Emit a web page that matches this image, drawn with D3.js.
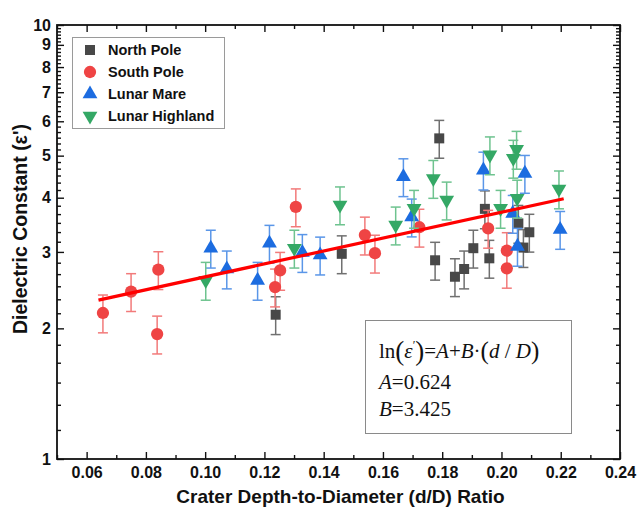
<!DOCTYPE html>
<html>
<head>
<meta charset="utf-8">
<script src="https://cdn.jsdelivr.net/npm/d3@7"></script>
<style>
  html, body { margin: 0; padding: 0; background: #fff; }
  svg { display: block; }
  text.sans { font-family: "Liberation Sans", Arial, sans-serif; }
  text.serif { font-family: "Liberation Serif", "Times New Roman", serif; }
</style>
</head>
<body>
<svg id="chart" width="641" height="519"></svg>
<script>
// ---------------- data ----------------
const seriesNames = ["North Pole", "South Pole", "Lunar Mare", "Lunar Highland"];

const northPoleX = [0.1238, 0.1461, 0.1776, 0.1790, 0.1843, 0.1874, 0.1905, 0.1944, 0.1959, 0.2057, 0.2074, 0.2094];
const northPoleY = [2.15, 2.97, 2.87, 5.48, 2.63, 2.74, 3.06, 3.77, 2.90, 3.49, 3.07, 3.33];

const southPoleX = [0.0655, 0.0750, 0.0838, 0.0842, 0.1236, 0.1253, 0.1306, 0.1539, 0.1573, 0.1723, 0.1955, 0.2018, 0.2018];
const southPoleY = [2.17, 2.43, 1.94, 2.73, 2.49, 2.72, 3.81, 3.28, 2.98, 3.42, 3.40, 3.02, 2.75];

const lunarMareX = [0.1019, 0.1073, 0.1177, 0.1217, 0.1328, 0.1388, 0.1669, 0.1697, 0.1939, 0.2038, 0.2054, 0.2079, 0.2198];
const lunarMareY = [3.06, 2.74, 2.58, 3.14, 2.99, 2.95, 4.47, 3.61, 4.63, 3.68, 3.09, 4.55, 3.38];

const lunarHighlandX = [0.1002, 0.1301, 0.1455, 0.1643, 0.1705, 0.1770, 0.1815, 0.1961, 0.1997, 0.2040, 0.2051, 0.2053, 0.2194];
const lunarHighlandY = [2.58, 3.06, 3.85, 3.46, 3.78, 4.43, 3.95, 5.02, 3.78, 4.93, 5.17, 3.99, 4.19];

const relativeError = 0.10;           // error bars: +/- 10 % of value

const fitA = 0.624, fitB = 3.425;     // ln(e') = A + B*(d/D)
const fitRangeX = [0.064, 0.221];

const xMajorTicks = [0.06, 0.08, 0.10, 0.12, 0.14, 0.16, 0.18, 0.20, 0.22, 0.24];
const xMinorTicks = [0.05, 0.07, 0.09, 0.11, 0.13, 0.15, 0.17, 0.19, 0.21, 0.23];
const yMajorTicks = [1, 2, 3, 4, 5, 6, 7, 8, 9, 10];

const equationLines = ["A = 0.624", "B = 3.425"];

// ---------------- layout ----------------
const svg = d3.select("#chart");
const L = 57, R = 620, T = 25, B = 459;

const x = d3.scaleLinear().domain([0.05, 0.24]).range([L, R]);
const y = d3.scaleLog().domain([1, 10]).range([B, T]);

const yMinorTicks = [];
yMajorTicks.slice(0, -1).forEach(v => { for (let k = 1; k <= 5; k++) yMinorTicks.push(v + k / 6); });

const series = [
  { name: seriesNames[0], xs: northPoleX, ys: northPoleY, sym: d3.symbolSquare, size: 100, rot: 0, color: "#484848", err: "#707070" },
  { name: seriesNames[1], xs: southPoleX, ys: southPoleY, sym: d3.symbolCircle, size: 118, rot: 0, color: "#ef4444", err: "#f27a7a" },
  { name: seriesNames[2], xs: lunarMareX, ys: lunarMareY, sym: d3.symbolTriangle, size: 95, rot: 0, color: "#1c6ce0", err: "#5a96e8" },
  { name: seriesNames[3], xs: lunarHighlandX, ys: lunarHighlandY, sym: d3.symbolTriangle, size: 95, rot: 180, color: "#34a865", err: "#6ec38f" }
];

// ---------------- axes ----------------
const tickFont = g => g.selectAll("text").attr("class", "sans")
  .style("font-size", "16px").style("font-weight", "bold").attr("fill", "#111");

function axisGroup(axis, tx, ty) {
  const g = svg.append("g").attr("transform", `translate(${tx},${ty})`).call(axis);
  g.select(".domain").remove();
  g.selectAll("line").attr("stroke", "#111").attr("stroke-width", 1.4);
  return g;
}
// bottom
axisGroup(d3.axisBottom(x).tickValues(xMajorTicks).tickFormat(d3.format(".2f")).tickSize(-7).tickPadding(8), 0, B).call(tickFont);
axisGroup(d3.axisBottom(x).tickValues(xMinorTicks).tickFormat("").tickSize(-4), 0, B);
// top
axisGroup(d3.axisTop(x).tickValues(xMajorTicks).tickFormat("").tickSize(-7), 0, T);
axisGroup(d3.axisTop(x).tickValues(xMinorTicks).tickFormat("").tickSize(-4), 0, T);
// left
axisGroup(d3.axisLeft(y).tickValues(yMajorTicks).tickFormat(d3.format("d")).tickSize(-7).tickPadding(6), L, 0).call(tickFont);
axisGroup(d3.axisLeft(y).tickValues(yMinorTicks).tickFormat("").tickSize(-4), L, 0);
// right
axisGroup(d3.axisRight(y).tickValues(yMajorTicks).tickFormat("").tickSize(-7), R, 0);
axisGroup(d3.axisRight(y).tickValues(yMinorTicks).tickFormat("").tickSize(-4), R, 0);

svg.append("rect").attr("x", L).attr("y", T).attr("width", R - L).attr("height", B - T)
  .attr("fill", "none").attr("stroke", "#111").attr("stroke-width", 1.8);

// axis titles
svg.append("text").attr("class", "sans").attr("x", (L + R) / 2 + 2).attr("y", 503).attr("text-anchor", "middle")
  .style("font-size", "19px").style("font-weight", "bold").attr("fill", "#111")
  .text("Crater Depth-to-Diameter (d/D) Ratio");
svg.append("text").attr("class", "sans").attr("transform", "translate(27,229) rotate(-90)").attr("text-anchor", "middle")
  .style("font-size", "19.5px").style("font-weight", "bold").attr("fill", "#111")
  .text("Dielectric Constant (ε')");

// ---------------- data marks ----------------
const plot = svg.append("g");
series.forEach(s => {
  const pts = s.xs.map((xv, i) => ({ x: xv, y: s.ys[i] }));
  const eg = plot.append("g").attr("stroke", s.err).attr("stroke-width", 1.5).attr("fill", "none");
  pts.forEach(p => {
    const cx = x(p.x), y1 = y(p.y * (1 + relativeError)), y0 = y(p.y * (1 - relativeError));
    eg.append("line").attr("x1", cx).attr("x2", cx).attr("y1", y1).attr("y2", y0);
    eg.append("line").attr("x1", cx - 5).attr("x2", cx + 5).attr("y1", y1).attr("y2", y1);
    eg.append("line").attr("x1", cx - 5).attr("x2", cx + 5).attr("y1", y0).attr("y2", y0);
  });
  const sym = d3.symbol().type(s.sym).size(s.size);
  plot.append("g").selectAll("path").data(pts).join("path")
    .attr("d", sym)
    .attr("transform", p => `translate(${x(p.x)},${y(p.y)}) rotate(${s.rot})`)
    .attr("fill", s.color);
});

// fit line
const fitPts = fitRangeX.map(xv => ({ x: xv, y: Math.exp(fitA + fitB * xv) }));
svg.append("path").datum(fitPts)
  .attr("d", d3.line().x(d => x(d.x)).y(d => y(d.y)))
  .attr("stroke", "#ff0000").attr("stroke-width", 3.2).attr("fill", "none");

// ---------------- legend ----------------
const lg = svg.append("g");
lg.append("rect").attr("x", 72.5).attr("y", 37.5).attr("width", 152).attr("height", 91)
  .attr("fill", "#fff").attr("stroke", "#9a9a9a").attr("stroke-width", 1);
series.forEach((s, i) => {
  const cy = 50 + i * 22;
  lg.append("path").attr("d", d3.symbol().type(s.sym).size(s.size)())
    .attr("transform", `translate(90,${cy}) rotate(${s.rot})`).attr("fill", s.color);
  lg.append("text").attr("class", "sans").attr("x", 108).attr("y", cy + 5)
    .style("font-size", "14.5px").style("font-weight", "bold").attr("fill", "#111").text(s.name);
});

// ---------------- equation box ----------------
const eq = svg.append("g");
eq.append("rect").attr("x", 365.5).attr("y", 320.5).attr("width", 206).attr("height", 113)
  .attr("fill", "#fff").attr("stroke", "#8a8a8a").attr("stroke-width", 1);
const l1 = eq.append("text").attr("class", "serif").attr("x", 379).attr("y", 358).style("font-size", "21px").attr("fill", "#111");
l1.append("tspan").text("ln");
l1.append("tspan").style("font-size", "27px").attr("dy", 2).text("(");
l1.append("tspan").style("font-style", "italic").attr("dy", -2).text("ε");
l1.append("tspan").style("font-size", "12px").attr("dy", -9).text("′");
l1.append("tspan").style("font-size", "27px").attr("dy", 11).text(")");
l1.append("tspan").attr("dy", -2).text("=");
l1.append("tspan").style("font-style", "italic").text("A");
l1.append("tspan").text("+");
l1.append("tspan").style("font-style", "italic").text("B");
l1.append("tspan").text("·");
l1.append("tspan").style("font-size", "25px").attr("dy", 1).text("(");
l1.append("tspan").style("font-style", "italic").attr("dy", -1).text("d");
l1.append("tspan").text(" / ");
l1.append("tspan").style("font-style", "italic").text("D");
l1.append("tspan").style("font-size", "25px").attr("dy", 1).text(")");

equationLines.forEach((ln, i) => {
  const parts = ln.split(" = ");
  const t = eq.append("text").attr("class", "serif").attr("x", 379).attr("y", 389 + i * 27).style("font-size", "21px").attr("fill", "#111");
  t.append("tspan").style("font-style", "italic").text(parts[0]);
  t.append("tspan").text("=" + parts[1]);
});
</script>
</body>
</html>
